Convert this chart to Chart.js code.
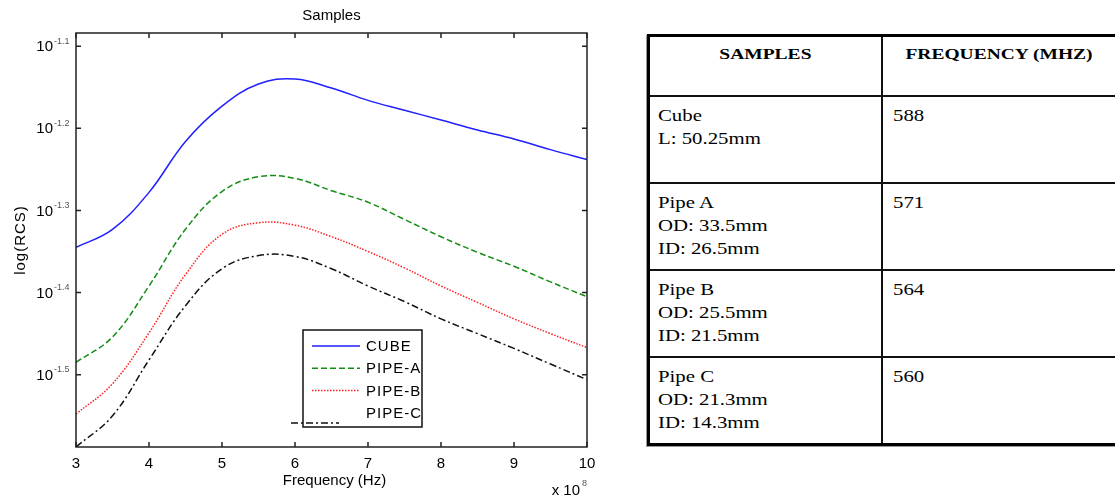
<!DOCTYPE html>
<html lang="en">
<head>
    <meta charset="UTF-8">
    <title>Samples</title>
    <style>
        body {
            margin: 0;
            background: #fff;
            width: 1115px;
            height: 500px;
            overflow: hidden;
            position: relative;
        }

        #chartBox {
            position: absolute;
            left: 0;
            top: 0;
            width: 620px;
            height: 500px;
        }

        #samplesTable {
            position: absolute;
            left: 647px;
            top: 34px;
            width: 472px;
            border-collapse: collapse;
            border: 3px solid #000;
            box-shadow: -1px 1px 0 #999;
            font-family: 'Liberation Serif', 'Times New Roman', serif;
            color: #000;
        }

        #samplesTable th,
        #samplesTable td {
            border: 2px solid #111;
            vertical-align: top;
            text-align: left;
        }

        #samplesTable th {
            font-size: 15px;
            text-align: center;
            padding: 9px 0 0 0;
            height: 49px;
        }

        #samplesTable td {
            font-size: 16px;
            line-height: 23px;
            padding: 7px 6px 0 8px;
            height: 78px;
        }

        #samplesTable td.freq {
            padding-left: 10px;
        }

        /* the source table text is drawn wide */
        .wide {
            display: inline-block;
            transform: scaleX(1.3);
            transform-origin: left center;
            white-space: nowrap;
        }

        th .wide {
            transform-origin: center center;
        }
    </style>
    <script src="https://cdn.jsdelivr.net/npm/chart.js"></script>
</head>
<body>
    <div id="chartBox"><canvas id="rcsChart"></canvas></div>
    <table id="samplesTable"></table>
    <script>
        // frequency in units of 1e8 Hz
        const freq = [3, 3.5, 4, 4.5, 5, 5.5, 6, 6.5, 7, 7.5, 8, 8.5, 9, 9.5, 10];

        // log10(RCS)
        const cube  = [-1.345, -1.323, -1.278, -1.216, -1.173, -1.146, -1.140, -1.151, -1.166, -1.178, -1.190, -1.202, -1.213, -1.226, -1.238];
        const pipeA = [-1.485, -1.454, -1.392, -1.323, -1.277, -1.259, -1.261, -1.276, -1.290, -1.311, -1.332, -1.351, -1.368, -1.387, -1.405];
        const pipeB = [-1.548, -1.511, -1.449, -1.378, -1.329, -1.315, -1.318, -1.332, -1.350, -1.370, -1.392, -1.412, -1.432, -1.450, -1.467];
        const pipeC = [-1.588, -1.550, -1.482, -1.416, -1.371, -1.355, -1.356, -1.371, -1.392, -1.411, -1.432, -1.450, -1.468, -1.487, -1.506];

        const seriesNames = ['CUBE', 'PIPE-A', 'PIPE-B', 'PIPE-C'];
        const xTicks = [3, 4, 5, 6, 7, 8, 9, 10];
        const yTicks = [-1.5, -1.4, -1.3, -1.2, -1.1];
        const yTickLabels = ['-1.5', '-1.4', '-1.3', '-1.2', '-1.1'];

        // table on the right
        const sampleNames = ['Cube', 'Pipe A', 'Pipe B', 'Pipe C'];
        const sampleDims = [
            ['L: 50.25mm'],
            ['OD: 33.5mm', 'ID: 26.5mm'],
            ['OD: 25.5mm', 'ID: 21.5mm'],
            ['OD: 21.3mm', 'ID: 14.3mm']
        ];
        const resonanceMHz = ['588', '571', '564', '560'];

        function wide(text) {
            return '<span class="wide">' + text + '</span>';
        }

        const table = document.getElementById('samplesTable');
        let html = '<tr><th style="width:231px">' + wide('SAMPLES') + '</th><th>' + wide('FREQUENCY (MHZ)') + '</th></tr>';
        sampleNames.forEach(function (name, i) {
            html += '<tr><td>' + [name].concat(sampleDims[i]).map(wide).join('<br>') +
                '</td><td class="freq">' + wide(resonanceMHz[i]) + '</td></tr>';
        });
        table.innerHTML = html;

        const sans = "'Liberation Sans', Arial, sans-serif";

        function points(values) {
            return freq.map(function (f, i) { return { x: f, y: values[i] }; });
        }

        const styles = [
            { color: '#1f1fff', dash: [] },
            { color: '#148c14', dash: [6, 3] },
            { color: '#ff2020', dash: [1.5, 1.5] },
            { color: '#111111', dash: [7, 3, 2, 3] }
        ];

        const datasets = [cube, pipeA, pipeB, pipeC].map(function (vals, i) {
            return {
                label: seriesNames[i],
                data: points(vals),
                borderColor: styles[i].color,
                borderDash: styles[i].dash,
                borderWidth: 1.5,
                pointRadius: 0,
                fill: false,
                tension: 0.4
            };
        });

        // box, inward ticks, y labels with exponents, titles, legend
        const matlabFrame = {
            id: 'matlabFrame',
            afterDraw(chart) {
                const ctx = chart.ctx;
                const a = chart.chartArea;
                const xs = chart.scales.x;
                const ys = chart.scales.y;
                ctx.save();

                ctx.strokeStyle = '#222';
                ctx.lineWidth = 1.5;
                ctx.setLineDash([]);
                ctx.strokeRect(a.left, a.top, a.right - a.left, a.bottom - a.top);
                ctx.beginPath();
                xTicks.forEach(function (t) {
                    const px = xs.getPixelForValue(t);
                    ctx.moveTo(px, a.bottom); ctx.lineTo(px, a.bottom - 5);
                    ctx.moveTo(px, a.top); ctx.lineTo(px, a.top + 5);
                });
                yTicks.forEach(function (t) {
                    const py = ys.getPixelForValue(t);
                    ctx.moveTo(a.left, py); ctx.lineTo(a.left + 5, py);
                    ctx.moveTo(a.right, py); ctx.lineTo(a.right - 5, py);
                });
                ctx.stroke();

                // y tick labels 10^x
                yTicks.forEach(function (t, i) {
                    const py = ys.getPixelForValue(t);
                    ctx.font = '15px ' + sans;
                    ctx.textAlign = 'right';
                    ctx.textBaseline = 'middle';
                    ctx.fillStyle = '#000';
                    ctx.fillText('10', a.left - 23, py + 1);
                    ctx.font = '9px ' + sans;
                    ctx.textAlign = 'left';
                    ctx.fillStyle = '#555';
                    ctx.fillText(yTickLabels[i], a.left - 22, py - 5);
                });

                // titles
                ctx.fillStyle = '#000';
                ctx.font = '15px ' + sans;
                ctx.textAlign = 'center';
                ctx.textBaseline = 'middle';
                ctx.fillText('Samples', (a.left + a.right) / 2, 16);
                ctx.fillText('Frequency (Hz)', (a.left + a.right) / 2 + 3, 481);
                ctx.textAlign = 'right';
                ctx.fillText('x 10', a.right - 7, 491);
                ctx.font = '9px ' + sans;
                ctx.textAlign = 'left';
                ctx.fillStyle = '#555';
                ctx.fillText('8', a.right - 5, 484);

                ctx.save();
                ctx.translate(21, 240);
                ctx.rotate(-Math.PI / 2);
                ctx.fillStyle = '#000';
                ctx.font = '15px ' + sans;
                ctx.letterSpacing = '1px';
                ctx.textAlign = 'center';
                ctx.fillText('log(RCS)', 0, 0);
                ctx.restore();

                // legend box
                const lx = a.left + 227, ly = a.top + 297, lw = 119, lh = 97;
                ctx.fillStyle = '#fff';
                ctx.fillRect(lx, ly, lw, lh);
                ctx.strokeStyle = '#111';
                ctx.lineWidth = 1.5;
                ctx.strokeRect(lx, ly, lw, lh);
                ctx.font = '15px ' + sans;
                ctx.letterSpacing = '1px';
                ctx.textAlign = 'left';
                ctx.textBaseline = 'middle';
                chart.data.datasets.forEach(function (ds, i) {
                    const rowY = ly + 16 + i * 22.3;
                    // the last sample line sits lower-left of its row, as in the source figure
                    const sx = i === 3 ? lx - 12 : lx + 9;
                    const sy = i === 3 ? rowY + 10 : rowY;
                    ctx.strokeStyle = ds.borderColor;
                    ctx.lineWidth = 1.5;
                    ctx.setLineDash(ds.borderDash);
                    ctx.beginPath();
                    ctx.moveTo(sx, sy);
                    ctx.lineTo(sx + 48, sy);
                    ctx.stroke();
                    ctx.setLineDash([]);
                    ctx.fillStyle = '#000';
                    ctx.fillText(ds.label, lx + 63, rowY + 1);
                });
                ctx.restore();
            }
        };

        new Chart(document.getElementById('rcsChart'), {
            type: 'line',
            data: { datasets: datasets },
            options: {
                responsive: true,
                maintainAspectRatio: false,
                animation: false,
                layout: { padding: { left: 0, right: 33, top: 33, bottom: 0 } },
                plugins: {
                    legend: { display: false },
                    tooltip: { enabled: false }
                },
                scales: {
                    x: {
                        type: 'linear',
                        min: 3,
                        max: 10,
                        afterBuildTicks: function (s) { s.ticks = xTicks.map(function (v) { return { value: v }; }); },
                        afterFit: function (s) { s.height = 53; },
                        grid: { display: false },
                        border: { display: false },
                        ticks: {
                            color: '#000',
                            font: { family: sans, size: 15 },
                            padding: 0,
                            maxRotation: 0
                        }
                    },
                    y: {
                        type: 'linear',
                        min: -1.588,
                        max: -1.084,
                        afterBuildTicks: function (s) { s.ticks = yTicks.map(function (v) { return { value: v }; }); },
                        afterFit: function (s) { s.width = 76; },
                        grid: { display: false },
                        border: { display: false },
                        ticks: { display: false }
                    }
                }
            },
            plugins: [matlabFrame]
        });
    </script>
</body>
</html>
